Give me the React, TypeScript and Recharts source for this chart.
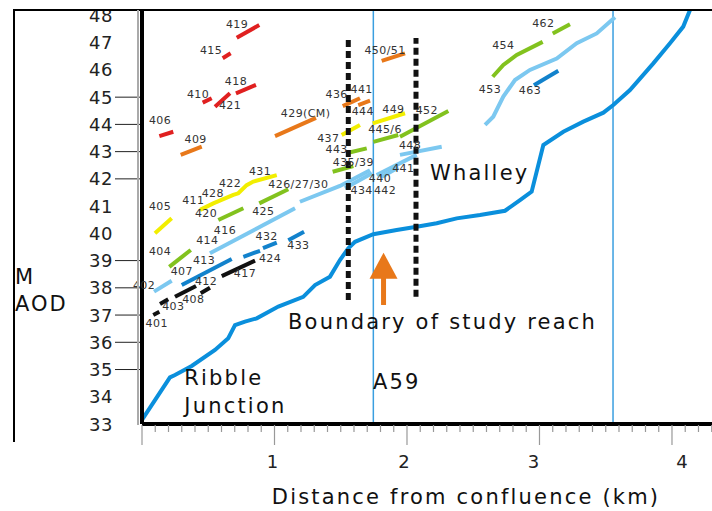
import React from "react"
import { ComposedChart, Line, Scatter, XAxis, YAxis, ReferenceLine } from "recharts"

type Pt = [number, number]

// long profile of the river bed (km, m AOD)
const thalweg: Pt[] = [
  [0, 33.15], [0.211, 34.71], [0.249, 34.8], [0.375, 35.13], [0.551, 35.72], [0.651, 36.15],
  [0.702, 36.63], [0.777, 36.76], [0.866, 36.88], [1.029, 37.31], [1.217, 37.67], [1.306, 38.1],
  [1.419, 38.41], [1.494, 39.02], [1.557, 39.45], [1.608, 39.69], [1.746, 39.97], [1.922, 40.12],
  [2.073, 40.24], [2.224, 40.37], [2.375, 40.55], [2.551, 40.67], [2.74, 40.83], [2.853, 41.22],
  [2.941, 41.53], [3.029, 43.24], [3.18, 43.73], [3.331, 44.1], [3.482, 44.43], [3.557, 44.71],
  [3.683, 45.26], [3.859, 46.24], [3.985, 46.98], [4.085, 47.59], [4.136, 48.2],
]

// terrace fragments, grouped by colour
const redRuns: Pt[][] = [
  [[0.715, 47.18], [0.885, 47.65]],
  [[0.609, 46.43], [0.669, 46.61]],
  [[0.709, 45.14], [0.86, 45.45]],
  [[0.458, 44.8], [0.526, 44.96]],
  [[0.551, 44.65], [0.664, 45.14]],
  [[0.131, 43.57], [0.236, 43.73]],
]
const orangeRuns: Pt[][] = [
  [[0.292, 42.88], [0.451, 43.18]],
  [[1.004, 43.57], [1.313, 44.24]],
  [[1.515, 44.67], [1.645, 44.96]],
  [[1.632, 44.71], [1.721, 44.87]],
  [[1.809, 46.33], [1.985, 46.61]],
]
const yellowRuns: Pt[][] = [
  [[0.098, 40.0], [0.224, 40.55]],
  [[0.438, 40.86], [0.538, 41.1], [0.689, 41.41], [0.727, 41.47], [0.79, 41.77], [0.84, 41.9], [1.017, 42.14]],
  [[1.507, 43.61], [1.645, 43.98]],
  [[1.741, 44.04], [1.985, 44.41]],
]
const greenRuns: Pt[][] = [
  [[0.206, 38.77], [0.368, 39.39]],
  [[0.576, 40.49], [0.765, 40.92]],
  [[0.885, 41.1], [1.104, 41.62]],
  [[1.439, 42.26], [1.595, 42.47]],
  [[1.557, 42.96], [1.696, 43.12]],
  [[1.746, 43.36], [1.934, 43.61]],
  [[1.947, 43.55], [2.312, 44.49]],
  [[2.647, 45.75], [2.727, 46.18], [2.828, 46.55], [3.024, 47.03]],
  [[3.1, 47.34], [3.23, 47.68]],
]
const lightBlueRuns: Pt[][] = [
  [[0.091, 37.86], [0.224, 38.26]],
  [[0.513, 39.27], [1.155, 40.92]],
  [[1.192, 41.16], [1.494, 41.74], [1.721, 42.32]],
  [[1.532, 41.66], [1.736, 42.21]],
  [[1.771, 42.14], [2.073, 42.88]],
  [[1.8, 42.05], [1.935, 42.42]],
  [[1.947, 42.88], [2.262, 43.18]],
  [[2.589, 43.98], [2.651, 44.28], [2.727, 45.02], [2.815, 45.63], [2.928, 46.0], [3.13, 46.42], [3.281, 46.98], [3.432, 47.34], [3.57, 47.93]],
]
const midBlueRuns: Pt[][] = [
  [[0.3, 38.1], [0.677, 39.06]],
  [[0.765, 39.14], [0.891, 39.36]],
  [[0.913, 39.46], [1.017, 39.66]],
  [[1.104, 39.75], [1.223, 40.06]],
  [[2.958, 45.44], [3.142, 45.97]],
]
const blackRuns: Pt[][] = [
  [[0.085, 37.0], [0.131, 37.12]],
  [[0.136, 37.41], [0.198, 37.58]],
  [[0.249, 37.67], [0.408, 38.07]],
  [[0.443, 37.8], [0.513, 38.0]],
  [[0.602, 38.43], [0.853, 39.0]],
]

const runLabels = [
  { text: "419", x: 0.717, y: 47.65 }, { text: "415", x: 0.521, y: 46.7 },
  { text: "418", x: 0.709, y: 45.57 }, { text: "410", x: 0.423, y: 45.11 },
  { text: "421", x: 0.664, y: 44.71 }, { text: "406", x: 0.136, y: 44.13 },
  { text: "409", x: 0.405, y: 43.43 }, { text: "429(CM)", x: 1.235, y: 44.41 },
  { text: "436", x: 1.469, y: 45.08 }, { text: "441", x: 1.658, y: 45.29 },
  { text: "444", x: 1.666, y: 44.47 }, { text: "450/51", x: 1.834, y: 46.73 },
  { text: "405", x: 0.136, y: 40.98 }, { text: "431", x: 0.891, y: 42.26 },
  { text: "422", x: 0.664, y: 41.84 }, { text: "428", x: 0.534, y: 41.47 },
  { text: "411", x: 0.387, y: 41.2 }, { text: "437", x: 1.406, y: 43.49 },
  { text: "449", x: 1.897, y: 44.53 }, { text: "404", x: 0.136, y: 39.33 },
  { text: "420", x: 0.483, y: 40.74 }, { text: "425", x: 0.915, y: 40.79 },
  { text: "426/27/30", x: 1.18, y: 41.81 }, { text: "435/39", x: 1.595, y: 42.59 },
  { text: "443", x: 1.469, y: 43.06 }, { text: "445/6", x: 1.834, y: 43.8 },
  { text: "452", x: 2.149, y: 44.5 }, { text: "454", x: 2.727, y: 46.88 },
  { text: "462", x: 3.029, y: 47.71 }, { text: "402", x: 0.015, y: 38.1 },
  { text: "416", x: 0.626, y: 40.1 }, { text: "414", x: 0.493, y: 39.75 },
  { text: "440", x: 1.796, y: 42.0 }, { text: "434", x: 1.658, y: 41.57 },
  { text: "442", x: 1.834, y: 41.57 }, { text: "441", x: 1.972, y: 42.39 },
  { text: "448", x: 2.023, y: 43.21 }, { text: "453", x: 2.626, y: 45.29 },
  { text: "413", x: 0.468, y: 39.0 }, { text: "407", x: 0.3, y: 38.59 },
  { text: "432", x: 0.941, y: 39.88 }, { text: "433", x: 1.18, y: 39.57 },
  { text: "463", x: 2.928, y: 45.24 }, { text: "401", x: 0.111, y: 36.7 },
  { text: "403", x: 0.236, y: 37.31 }, { text: "408", x: 0.387, y: 37.58 },
  { text: "412", x: 0.483, y: 38.22 }, { text: "417", x: 0.777, y: 38.51 },
  { text: "424", x: 0.966, y: 39.08 },
]

const placeNames = [
  { text: "Ribble", x: 0.319, y: 34.69 },
  { text: "Junction", x: 0.319, y: 33.66 },
  { text: "A59", x: 1.743, y: 34.54 },
  { text: "Boundary of study reach", x: 1.102, y: 36.74 },
  { text: "Whalley", x: 2.174, y: 42.21 },
]

const roadLines = [1.746, 3.555]
const reachBounds: Pt[][] = [
  [[1.557, 37.55], [1.557, 47.1]],
  [[2.068, 37.67], [2.068, 47.17]],
]
const arrowShaft: Pt[] = [[1.823, 37.37], [1.823, 38.4]]
const arrowTip = [{ x: 1.823, y: 39.29 }]

const kmTicks = [
  0, 0.1, 0.2, 0.3, 0.4, 0.5, 0.6, 0.7, 0.8, 0.9, 1, 1.1, 1.2, 1.3, 1.4, 1.5, 1.6, 1.7, 1.8, 1.9,
  2, 2.1, 2.2, 2.3, 2.4, 2.5, 2.6, 2.7, 2.8, 2.9, 3, 3.1, 3.2, 3.3, 3.4, 3.5, 3.6, 3.7, 3.8, 3.9,
  4, 4.1, 4.2, 4.3,
]
const kmLabels = [1, 2, 3, 4]
const mTicks = [33, 34, 35, 36, 37, 38, 39, 40, 41, 42, 43, 44, 45, 46, 47, 48]
const mTicksWithMark = [35, 36, 37, 38, 39, 42, 43, 44, 45]

const FONT = "DejaVu Sans"
const toXY = (pts: Pt[]) => pts.map(([x, y]) => ({ x, y }))

const groups: { color: string; runs: Pt[][] }[] = [
  { color: "#e02020", runs: redRuns },
  { color: "#e8781a", runs: orangeRuns },
  { color: "#f2ee00", runs: yellowRuns },
  { color: "#82c21e", runs: greenRuns },
  { color: "#7cc8f0", runs: lightBlueRuns },
  { color: "#1282cc", runs: midBlueRuns },
  { color: "#111111", runs: blackRuns },
]

const labelNudge: Record<number, number> = { 1: -2, 2: -3, 3: -6, 4: 10 }

function KmTick(props: any) {
  const { x, payload } = props
  const v = payload.value
  const major = Math.abs(v - Math.round(v)) < 1e-6
  return (
    <g>
      <line x1={x} x2={x} y1={425} y2={major ? 445 : 432} stroke="#999" strokeWidth={1.2} />
      {major && kmLabels.includes(Math.round(v)) && (
        <text x={x + (labelNudge[Math.round(v)] || 0)} y={461} textAnchor="middle" dominantBaseline="central"
          fontFamily={FONT} fontSize={18} fill="#222">
          {Math.round(v)}
        </text>
      )}
    </g>
  )
}

function MTick(props: any) {
  const { y, payload } = props
  return (
    <g>
      {mTicksWithMark.includes(payload.value) && (
        <line x1={115} x2={140} y1={y} y2={y} stroke="#222" strokeWidth={1} />
      )}
      <text x={89} y={y} dominantBaseline="central" fontFamily={FONT} fontSize={18} letterSpacing={0.5} fill="#222">
        {payload.value}
      </text>
    </g>
  )
}

const axisTitle = () => (
  <text x={466} y={497} textAnchor="middle" dominantBaseline="central"
    fontFamily={FONT} fontSize={21} letterSpacing={2.2} fill="#111">
    Distance from confluence (km)
  </text>
)

const smallLabel = (props: any) => (
  <text x={props.cx} y={props.cy} textAnchor="middle" dominantBaseline="central"
    fontFamily={FONT} fontSize={11} letterSpacing={0.4} fill="#333">
    {props.payload.text}
  </text>
)

const bigLabel = (props: any) => (
  <text x={props.cx} y={props.cy} dominantBaseline="central"
    fontFamily={FONT} fontSize={21} letterSpacing={2.2} fill="#111">
    {props.payload.text}
  </text>
)

const arrowHead = (props: any) => {
  const { cx, cy } = props
  return <polygon points={`${cx},${cy} ${cx - 14},${cy + 26} ${cx + 14},${cy + 26}`} fill="#e8781a" />
}

export default function App() {
  return (
    <div style={{ position: "absolute", left: 0, top: 0, width: 712, height: 511, background: "#fff", overflow: "hidden" }}>
      <ComposedChart width={712} height={511} margin={{ top: 10, right: 0, bottom: 0, left: 0 }}>
        <XAxis
          type="number"
          dataKey="x"
          domain={[0, 4.302]}
          ticks={kmTicks}
          interval={0}
          height={87}
          tickLine={false}
          axisLine={{ stroke: "#000", strokeWidth: 4 }}
          tick={<KmTick />}
          label={{ content: axisTitle }}
        />
        <YAxis
          type="number"
          dataKey="y"
          domain={[33, 48.2]}
          ticks={mTicks}
          interval={0}
          width={142}
          tickLine={false}
          axisLine={{ stroke: "#000", strokeWidth: 4 }}
          tick={<MTick />}
        />
        {roadLines.map((x) => (
          <ReferenceLine key={x} x={x} stroke="#3a9fe0" strokeWidth={1.5} />
        ))}
        <Line data={toXY(thalweg)} dataKey="y" type="linear" stroke="#0a8fdc" strokeWidth={4}
          dot={false} isAnimationActive={false} />
        {groups.flatMap((g, gi) =>
          g.runs.map((run, ri) => (
            <Line key={`${gi}-${ri}`} data={toXY(run)} dataKey="y" type="linear" stroke={g.color}
              strokeWidth={4} dot={false} isAnimationActive={false} />
          ))
        )}
        {reachBounds.map((b, i) => (
          <Line key={`b${i}`} data={toXY(b)} dataKey="y" stroke="#111" strokeWidth={5}
            strokeDasharray="7 4" dot={false} isAnimationActive={false} />
        ))}
        <Line data={toXY(arrowShaft)} dataKey="y" stroke="#e8781a" strokeWidth={5} dot={false} isAnimationActive={false} />
        <Scatter data={arrowTip} shape={arrowHead} isAnimationActive={false} />
        <Scatter data={runLabels} shape={smallLabel} isAnimationActive={false} />
        <Scatter data={placeNames} shape={bigLabel} isAnimationActive={false} />
      </ComposedChart>
      <div style={{ position: "absolute", left: 13, top: 9, width: 699, height: 431, borderTop: "2px solid #000", borderLeft: "2px solid #000", pointerEvents: "none" }} />
      <div style={{ position: "absolute", left: 137, top: 10, width: 2, height: 415, background: "#aaa" }} />
      <div style={{ position: "absolute", left: 15, top: 264, fontFamily: FONT, fontSize: 21, letterSpacing: 2, color: "#111", lineHeight: "27px" }}>
        M<br />AOD
      </div>
    </div>
  )
}
